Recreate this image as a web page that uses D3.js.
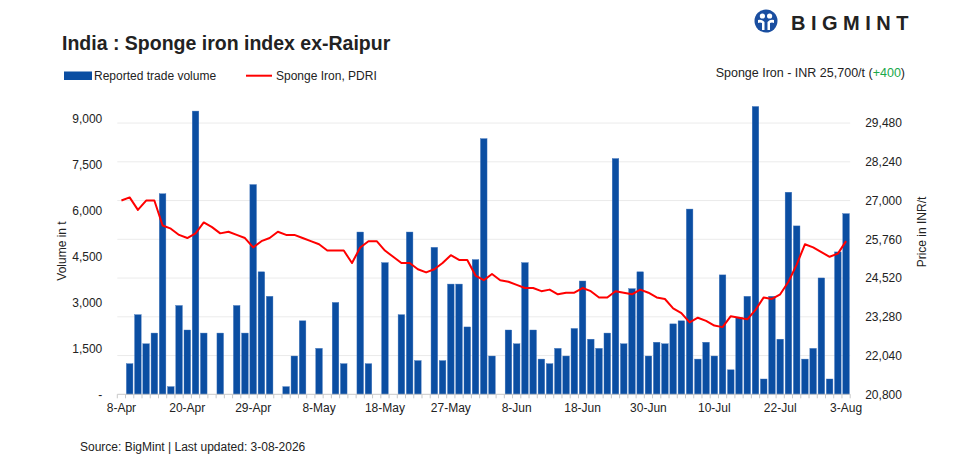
<!DOCTYPE html>
<html lang="en">
<head>
    <meta charset="UTF-8">
    <title>Sponge iron index ex-Raipur</title>
    <script src="https://d3js.org/d3.v7.min.js"></script>
    <style>
        body { margin: 0; background: #fff; }
        text { font-family: "Liberation Sans", Arial, sans-serif; fill: #222; }
    </style>
</head>
<body>
<svg id="chart" width="959" height="467"></svg>

<script>
    // trading days, labels shown every 8th slot
    const tickLabels = ["8-Apr", "20-Apr", "29-Apr", "8-May", "18-May", "27-May",
        "8-Jun", "18-Jun", "30-Jun", "10-Jul", "22-Jul", "3-Aug"];

    // reported trade volume, t (null = no trade reported)
    const volume = [
        null, 1000, 2600, 1650, 2000, 6550, 250, 2900, 2100, 9250,
        2000, null, 2000, null, 2900, 2000, 6850, 4000, 3200, null,
        250, 1250, 2400, null, 1500, null, 3000, 1000, null, 5300,
        1000, null, 4300, null, 2600, 5300, 1100, null, 4800, 1100,
        3600, 3600, 2200, 4400, 8350, 1250, null, 2100, 1650, 4300,
        2100, 1150, 1000, 1500, 1250, 2150, 3700, 1800, 1500, 2000,
        7700, 1650, 3450, 4000, 1250, 1700, 1650, 2300, 2400, 6050,
        1150, 1700, 1250, 3900, 800, 2500, 3200, 9400, 500, 3200,
        1800, 6600, 5500, 1150, 1500, 3800, 500, 4650, 5900
    ];

    // Sponge Iron, PDRI, INR/t
    const price = [
        27000, 27100, 26700, 27000, 27000, 26200, 26100, 25900, 25800, 25950,
        26300, 26150, 25950, 26000, 25900, 25800, 25500, 25700, 25800, 26000,
        25900, 25900, 25800, 25700, 25600, 25400, 25400, 25400, 25000, 25500,
        25700, 25700, 25400, 25200, 25000, 25000, 24800, 24700, 24800, 25000,
        25250, 25100, 25100, 24600, 24450, 24650, 24450, 24400, 24300, 24200,
        24200, 24100, 24150, 24000, 24050, 24050, 24200, 24100, 23900, 23900,
        24100, 24050, 24000, 24150, 24050, 23900, 23850, 23550, 23400, 23100,
        23250, 23150, 23000, 22950, 23300, 23250, 23200, 23500, 23900, 23850,
        24000, 24400, 24950, 25600, 25500, 25350, 25200, 25300, 25700
    ];

    const volTicks = [0, 1500, 3000, 4500, 6000, 7500, 9000];
    const priceTicks = [20800, 22040, 23280, 24520, 25760, 27000, 28240, 29480];

    const plotLeft = 117.3, plotRight = 850.2, plotTop = 84.3, plotBottom = 394.3;
    const labelEvery = 8;

    const svg = d3.select("#chart");
    const slots = d3.range(price.length);

    const x = d3.scaleBand()
        .domain(slots)
        .range([plotLeft, plotRight])
        .paddingInner(0.2)
        .paddingOuter(0.1);

    const yVol = d3.scaleLinear().domain([0, 10125]).range([plotBottom, plotTop]);
    const yPrice = d3.scaleLinear().domain([20800, 30720]).range([plotBottom, plotTop]);

    // gridlines follow the price axis
    svg.append("g")
        .selectAll("line")
        .data(priceTicks.slice(1)).enter()
        .append("line")
        .attr("x1", plotLeft).attr("x2", plotRight)
        .attr("y1", d => yPrice(d)).attr("y2", d => yPrice(d))
        .attr("stroke", "#ebebeb")
        .attr("stroke-width", 1);

    // bars
    svg.append("g")
        .selectAll("rect")
        .data(slots.filter(i => volume[i] != null)).enter()
        .append("rect")
        .attr("x", i => x(i))
        .attr("width", x.bandwidth())
        .attr("y", i => yVol(volume[i]))
        .attr("height", i => plotBottom - yVol(volume[i]))
        .attr("fill", "#0b4ea2")
        .attr("stroke", "#3d72bb")
        .attr("stroke-width", 0.4);

    // price line
    const line = d3.line()
        .x(i => x(i) + x.bandwidth() / 2)
        .y(i => yPrice(price[i]));

    svg.append("path")
        .datum(slots)
        .attr("d", line)
        .attr("fill", "none")
        .attr("stroke", "#ff0000")
        .attr("stroke-width", 2)
        .attr("stroke-linejoin", "round");

    // x axis: baseline, ticks between slots, sparse labels
    const xAxis = svg.append("g");
    xAxis.append("line")
        .attr("x1", plotLeft).attr("x2", plotRight)
        .attr("y1", plotBottom).attr("y2", plotBottom)
        .attr("stroke", "#c8c8c8");
    xAxis.selectAll("line.tick")
        .data(d3.range(price.length + 1)).enter()
        .append("line")
        .attr("class", "tick")
        .attr("x1", i => plotLeft + i * x.step())
        .attr("x2", i => plotLeft + i * x.step())
        .attr("y1", plotBottom).attr("y2", plotBottom + 4)
        .attr("stroke", "#c8c8c8");
    xAxis.selectAll("text")
        .data(tickLabels).enter()
        .append("text")
        .attr("x", (d, j) => x(j * labelEvery) + x.bandwidth() / 2)
        .attr("y", plotBottom + 18)
        .attr("text-anchor", "middle")
        .attr("font-size", 12)
        .text(d => d);

    // left axis
    const fmt = d3.format(",");
    svg.append("g")
        .attr("transform", "translate(" + (plotLeft - 12) + ",0)")
        .call(d3.axisLeft(yVol).tickValues(volTicks).tickSize(0)
            .tickFormat(d => d === 0 ? "-" : fmt(d)))
        .call(g => g.select(".domain").remove())
        .call(g => g.selectAll("text").attr("font-size", 12).attr("fill", "#222")
            .attr("font-family", "Liberation Sans, Arial, sans-serif"));

    // right axis
    svg.append("g")
        .attr("transform", "translate(" + (plotRight + 12) + ",0)")
        .call(d3.axisRight(yPrice).tickValues(priceTicks).tickSize(0).tickFormat(fmt))
        .call(g => g.select(".domain").remove())
        .call(g => g.selectAll("text").attr("font-size", 12).attr("fill", "#222")
            .attr("font-family", "Liberation Sans, Arial, sans-serif"));

    // axis titles
    svg.append("text")
        .attr("transform", "translate(66,251) rotate(-90)")
        .attr("text-anchor", "middle")
        .attr("font-size", 12)
        .text("Volume in t");
    svg.append("text")
        .attr("transform", "translate(926,232) rotate(-90)")
        .attr("text-anchor", "middle")
        .attr("font-size", 12)
        .text("Price in INR/t");

    // title
    svg.append("text")
        .attr("x", 62).attr("y", 50)
        .attr("font-size", 19.5)
        .attr("font-weight", "bold")
        .attr("fill", "#111")
        .text("India : Sponge iron index ex-Raipur");

    // legend
    svg.append("rect")
        .attr("x", 64).attr("y", 71.5).attr("width", 28).attr("height", 8.5)
        .attr("fill", "#0b4ea2");
    svg.append("text")
        .attr("x", 94).attr("y", 80)
        .attr("font-size", 12)
        .text("Reported trade volume");
    svg.append("line")
        .attr("x1", 246).attr("x2", 272).attr("y1", 75.7).attr("y2", 75.7)
        .attr("stroke", "#ff0000").attr("stroke-width", 2);
    svg.append("text")
        .attr("x", 276).attr("y", 80)
        .attr("font-size", 12)
        .text("Sponge Iron, PDRI");

    // latest price
    const head = svg.append("text")
        .attr("x", 905).attr("y", 77)
        .attr("text-anchor", "end")
        .attr("font-size", 12.5);
    head.append("tspan").text("Sponge Iron - INR 25,700/t (");
    head.append("tspan").attr("fill", "#19a84a").text("+400");
    head.append("tspan").text(")");

    // logo
    const logo = svg.append("g").attr("transform", "translate(766,21)");
    logo.append("circle").attr("r", 11.5).attr("fill", "#1a4ea0");
    logo.append("circle").attr("cx", -3.6).attr("cy", -5).attr("r", 2.6).attr("fill", "#fff");
    logo.append("circle").attr("cx", 3.6).attr("cy", -5).attr("r", 2.6).attr("fill", "#fff");
    logo.append("path")
        .attr("d", "M-8,-1 Q-4,-2 -1.5,1 L-1.5,9 L-4,9 L-4,2 Q-6,1 -8,2 Z M8,-1 Q4,-2 1.5,1 L1.5,9 L4,9 L4,2 Q6,1 8,2 Z")
        .attr("fill", "#fff");
    svg.append("text")
        .attr("x", 791).attr("y", 30)
        .attr("font-size", 20)
        .attr("font-weight", "bold")
        .attr("letter-spacing", 5.5)
        .attr("fill", "#1a4ea0")
        .text("BIGMINT");

    // source
    svg.append("text")
        .attr("x", 80).attr("y", 451)
        .attr("font-size", 12)
        .text("Source: BigMint | Last updated: 3-08-2026");
</script>
</body>
</html>
